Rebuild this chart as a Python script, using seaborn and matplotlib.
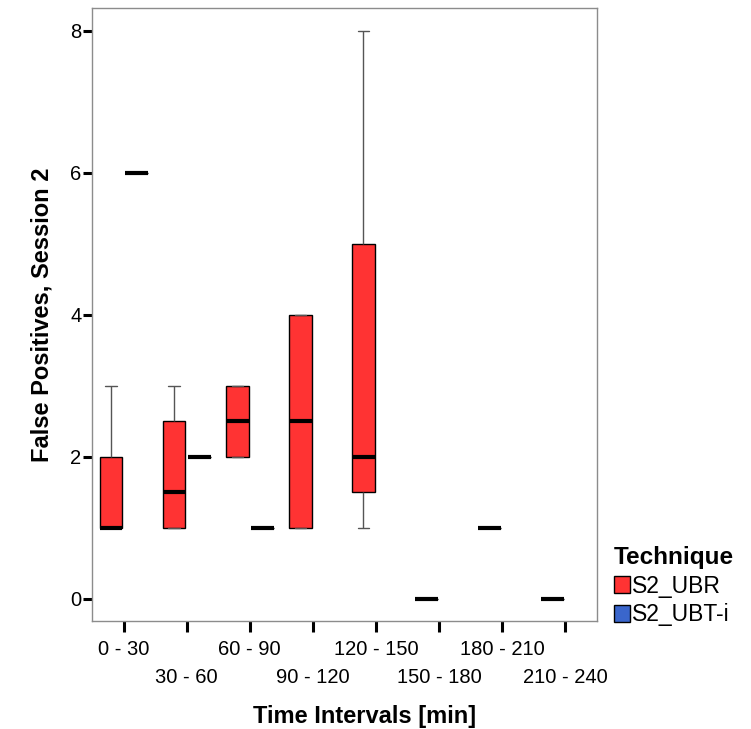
import numpy as np
import pandas as pd
import matplotlib
matplotlib.use("Agg")
import matplotlib.pyplot as plt
import seaborn as sns

# categorias del eje x
intervals = ["0 - 30", "30 - 60", "60 - 90", "90 - 120",
             "120 - 150", "150 - 180", "180 - 210", "210 - 240"]
techniques = ["S2_UBR", "S2_UBT-i"]

# resumen de cinco numeros (S2_UBR)
ubr_min = [1, 1, 2, 1, 1, 0, 1, 0]
ubr_q1 = [1, 1, 2, 1, 1.5, 0, 1, 0]
ubr_med = [1, 1.5, 2.5, 2.5, 2, 0, 1, 0]
ubr_q3 = [2, 2.5, 3, 4, 5, 0, 1, 0]
ubr_max = [3, 3, 3, 4, 8, 0, 1, 0]

# S2_UBT-i solo aparece en los tres primeros intervalos (cajas planas)
ubt_intervals = ["0 - 30", "30 - 60", "60 - 90"]
ubt_values = [6, 2, 1]

colors = ["#ff3333", "#3a66cc"]

rows = []
for i, name in enumerate(intervals):
    for v in (ubr_min[i], ubr_q1[i], ubr_med[i], ubr_q3[i], ubr_max[i]):
        rows.append((name, "S2_UBR", v))
for name, v in zip(ubt_intervals, ubt_values):
    for _ in range(5):
        rows.append((name, "S2_UBT-i", v))
df = pd.DataFrame(rows, columns=["Interval", "Technique", "FP"])

sns.set_style("white")
plt.rcParams["font.family"] = ["Liberation Sans", "DejaVu Sans"]
plt.rcParams["text.color"] = "black"
plt.rcParams["axes.labelcolor"] = "black"
plt.rcParams["xtick.color"] = "black"
plt.rcParams["ytick.color"] = "black"

fig = plt.figure(figsize=(7.51, 7.29), dpi=100)
ax = fig.add_axes([92 / 751, 1 - 621 / 729, 505 / 751, 613 / 729])

sns.boxplot(data=df, x="Interval", y="FP", hue="Technique",
            order=intervals, hue_order=techniques, palette=colors,
            saturation=1, width=0.8, gap=0.1, linewidth=1, linecolor="black",
            medianprops=dict(color="black", linewidth=3),
            whiskerprops=dict(color="#555555", linewidth=1),
            capprops=dict(color="#555555", linewidth=1),
            ax=ax)

ax.set_xlim(-0.5, 7.5)
ax.set_ylim(-0.31, 8.32)
ax.set_yticks([0, 2, 4, 6, 8])

# etiquetas alternadas en dos filas: pares arriba, impares abajo
pos = np.arange(len(intervals))
ax.set_xticks(pos[0::2], intervals[0::2])
ax.set_xticks(pos[1::2], intervals[1::2], minor=True)

ax.tick_params(axis="x", which="both", length=8, width=2.2, color="black",
               labelsize=14.5, labelcolor="black")
ax.tick_params(axis="x", which="major", pad=6)
ax.tick_params(axis="x", which="minor", pad=26)
ax.tick_params(axis="y", length=6.5, width=2.2, color="black", labelsize=14.5,
               labelcolor="black", pad=1)
ax.tick_params(left=True, bottom=True)
ax.tick_params(axis="x", which="minor", bottom=True)

for s in ax.spines.values():
    s.set_color("#8c8c8c")
    s.set_linewidth(1)

ax.set_xlabel("Time Intervals [min]", fontsize=17, fontweight="bold")
ax.set_ylabel("False Positives, Session 2", fontsize=17, fontweight="bold")
ax.xaxis.set_label_coords(0.54, -0.137)
ax.yaxis.set_label_coords(-0.077, 0.5)

handles, labels = ax.get_legend_handles_labels()
for h in handles:
    h.set_edgecolor("black")
ax.legend(handles, labels, title="Technique", loc="upper left",
          bbox_to_anchor=(614 / 751, 1 - 546 / 729), bbox_transform=fig.transFigure,
          frameon=False, alignment="left", prop={"size": 16.5},
          title_fontproperties={"size": 17.5, "weight": "bold"},
          handlelength=0.7, handleheight=0.75, handletextpad=0.1,
          labelspacing=0.25, borderpad=0, borderaxespad=0)

fig.savefig("out.png", dpi=100)
